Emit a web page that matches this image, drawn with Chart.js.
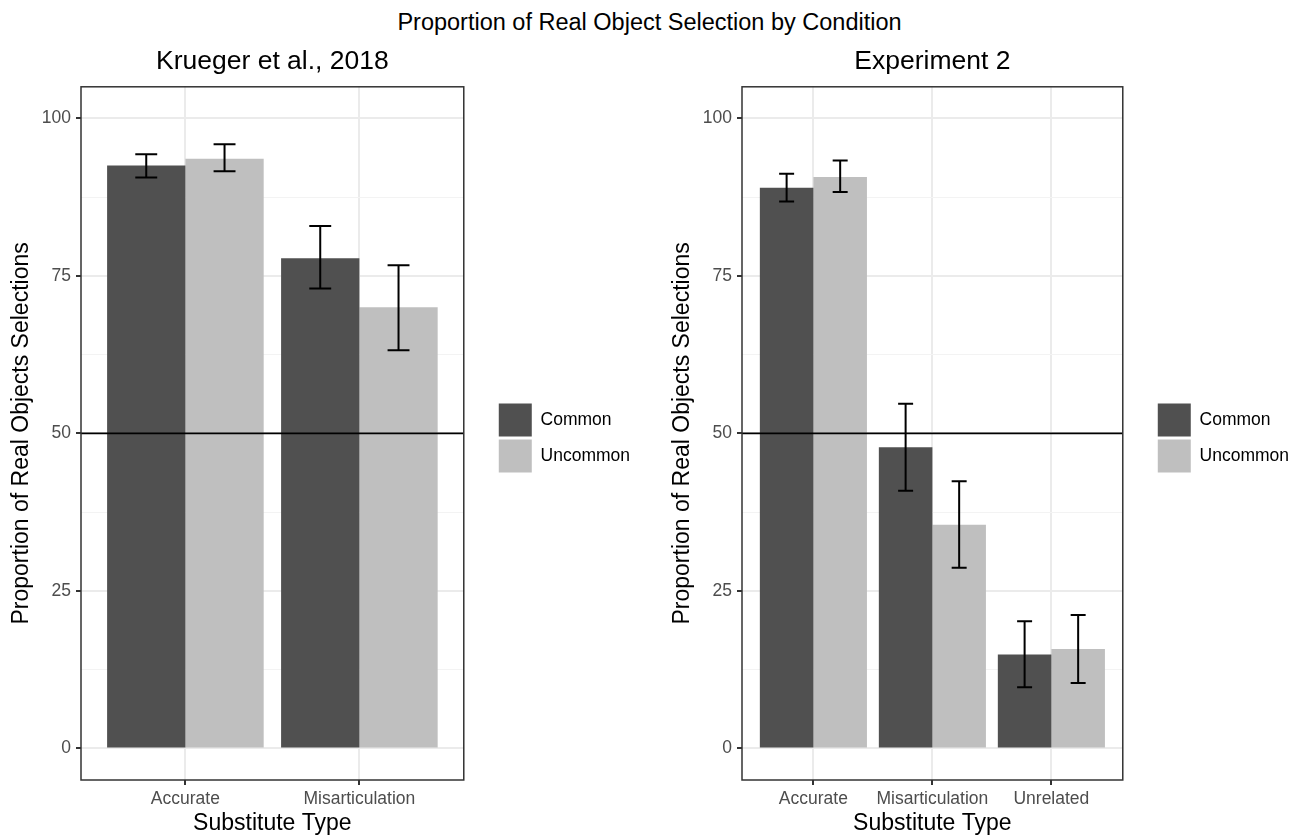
<!DOCTYPE html>
<html>
<head>
<meta charset="utf-8">
<script src="https://cdn.jsdelivr.net/npm/chart.js@4.4.1/dist/chart.umd.min.js"></script>
<style>
  body { margin: 0; background: #fff; width: 1299px; height: 836px; position: relative; overflow: hidden; font-family: "Liberation Sans", Arial, sans-serif; }
  #title { position: absolute; left: 0; top: 8px; width: 1299px; text-align: center; font-size: 23.5px; line-height: 28px; color: #000; }
  canvas { position: absolute; top: 40px; }
  #left { left: 0; }
  #right { left: 661px; }
</style>
</head>
<body>
<div id="title">Proportion of Real Object Selection by Condition</div>
<canvas id="left" width="650" height="796"></canvas>
<canvas id="right" width="638" height="796"></canvas>
<script>
// values
const seriesNames = ["Common", "Uncommon"]
const seriesColors = ["#505050", "#bfbfbf"]

const kruegerCategories = ["Accurate", "Misarticulation"]
const kruegerCommon = [92.5, 77.8]
const kruegerCommonLo = [90.6, 73.0]
const kruegerCommonHi = [94.3, 82.9]
const kruegerUncommon = [93.6, 70.0]
const kruegerUncommonLo = [91.6, 63.2]
const kruegerUncommonHi = [95.9, 76.7]

const exp2Categories = ["Accurate", "Misarticulation", "Unrelated"]
const exp2Common = [89.0, 47.8, 14.9]
const exp2CommonLo = [86.8, 40.9, 9.7]
const exp2CommonHi = [91.2, 54.7, 20.2]
const exp2Uncommon = [90.7, 35.5, 15.8]
const exp2UncommonLo = [88.3, 28.7, 10.4]
const exp2UncommonHi = [93.3, 42.4, 21.2]

const yTicks = [0, 12.5, 25, 37.5, 50, 62.5, 75, 87.5, 100]
const yTickLabels = ["0", "", "25", "", "50", "", "75", "", "100"]
const refLine = 50

Chart.defaults.font.family = '"Liberation Sans", Arial, sans-serif'

const isMajor = c => c.tick && c.tick.value % 25 === 0

const overlay = {
    id: "overlay",
    afterDatasetsDraw(chart) {
        const { ctx, chartArea: a, scales: { y } } = chart
        ctx.save()
        // error bars
        ctx.strokeStyle = "#000"
        ctx.lineWidth = 2
        chart.data.datasets.forEach((ds, i) => {
            chart.getDatasetMeta(i).data.forEach((bar, j) => {
                const lo = y.getPixelForValue(ds.errLo[j])
                const hi = y.getPixelForValue(ds.errHi[j])
                const cap = bar.width * 0.14
                ctx.beginPath()
                ctx.moveTo(bar.x, lo); ctx.lineTo(bar.x, hi)
                ctx.moveTo(bar.x - cap, lo); ctx.lineTo(bar.x + cap, lo)
                ctx.moveTo(bar.x - cap, hi); ctx.lineTo(bar.x + cap, hi)
                ctx.stroke()
            })
        })
        // 50% line
        const ry = y.getPixelForValue(refLine)
        ctx.lineWidth = 1.8
        ctx.beginPath()
        ctx.moveTo(a.left, ry); ctx.lineTo(a.right, ry)
        ctx.stroke()
        // panel border
        ctx.strokeStyle = "#333"
        ctx.lineWidth = 1.5
        ctx.strokeRect(a.left, a.top, a.width, a.height)
        ctx.restore()
    }
}

function panel(id, title, categories, common, commonLo, commonHi, uncommon, uncommonLo, uncommonHi, padRight) {
    const series = [
        [common, commonLo, commonHi],
        [uncommon, uncommonLo, uncommonHi]
    ]
    return new Chart(document.getElementById(id), {
        type: "bar",
        data: {
            datasets: series.map(([vals, lo, hi], k) => ({
                label: seriesNames[k],
                data: vals.map((v, i) => ({ x: i + 1, y: v })),
                errLo: lo,
                errHi: hi,
                backgroundColor: seriesColors[k],
                borderWidth: 0,
                categoryPercentage: 0.9,
                barPercentage: 1.0
            }))
        },
        options: {
            responsive: false,
            animation: false,
            devicePixelRatio: 1,
            layout: { padding: { left: 0, right: padRight, top: 0, bottom: 0 } },
            plugins: {
                tooltip: { enabled: false },
                title: {
                    display: true,
                    text: title,
                    fullSize: false,
                    color: "#000",
                    font: { size: 26.5, weight: "normal" },
                    padding: { top: 6, bottom: 9 }
                },
                legend: {
                    position: "right",
                    align: "center",
                    maxWidth: 200,
                    labels: {
                        boxWidth: 33,
                        boxHeight: 33,
                        padding: 3,
                        color: "#000",
                        font: { size: 17.5 }
                    }
                }
            },
            scales: {
                x: {
                    type: "linear",
                    min: 0.4,
                    max: categories.length + 0.6,
                    offset: false,
                    afterBuildTicks: s => { s.ticks = categories.map((c, i) => ({ value: i + 1 })) },
                    afterFit: s => { s.height = 56 },
                    ticks: {
                        callback: v => categories[Math.round(v) - 1],
                        autoSkip: false,
                        maxRotation: 0,
                        padding: 4,
                        color: "#4d4d4d",
                        font: { size: 17.5 }
                    },
                    grid: { offset: false, color: "#ebebeb", lineWidth: 2, tickColor: "#333", tickLength: 5, tickWidth: 2 },
                    border: { display: false },
                    title: { display: true, text: "Substitute Type", color: "#000", font: { size: 23 }, padding: { top: 0, bottom: -1 } }
                },
                y: {
                    min: -5,
                    max: 105,
                    afterBuildTicks: s => { s.ticks = yTicks.map(v => ({ value: v })) },
                    afterFit: s => { s.width = 81 },
                    ticks: {
                        callback: v => yTickLabels[yTicks.indexOf(v)],
                        padding: 5,
                        color: "#4d4d4d",
                        font: { size: 17.5 }
                    },
                    grid: {
                        color: c => isMajor(c) ? "#ebebeb" : "#f3f3f3",
                        lineWidth: c => isMajor(c) ? 2 : 1,
                        tickColor: c => isMajor(c) ? "#333" : "rgba(0,0,0,0)",
                        tickLength: 5,
                        tickWidth: 2
                    },
                    border: { display: false },
                    title: { display: true, text: "Proportion of Real Objects Selections", color: "#000", font: { size: 23 }, padding: { top: 8, bottom: 0 } }
                },
                // empty axis that keeps the legend away from the panel
                gap: {
                    type: "linear",
                    position: "right",
                    display: true,
                    grid: { display: false },
                    ticks: { display: false },
                    border: { display: false },
                    afterFit: s => { s.width = 32 }
                }
            }
        },
        plugins: [overlay]
    })
}

panel("left", "Krueger et al., 2018", kruegerCategories,
    kruegerCommon, kruegerCommonLo, kruegerCommonHi,
    kruegerUncommon, kruegerUncommonLo, kruegerUncommonHi, 10)
panel("right", "Experiment 2", exp2Categories,
    exp2Common, exp2CommonLo, exp2CommonHi,
    exp2Uncommon, exp2UncommonLo, exp2UncommonHi, 0)
</script>
</body>
</html>
